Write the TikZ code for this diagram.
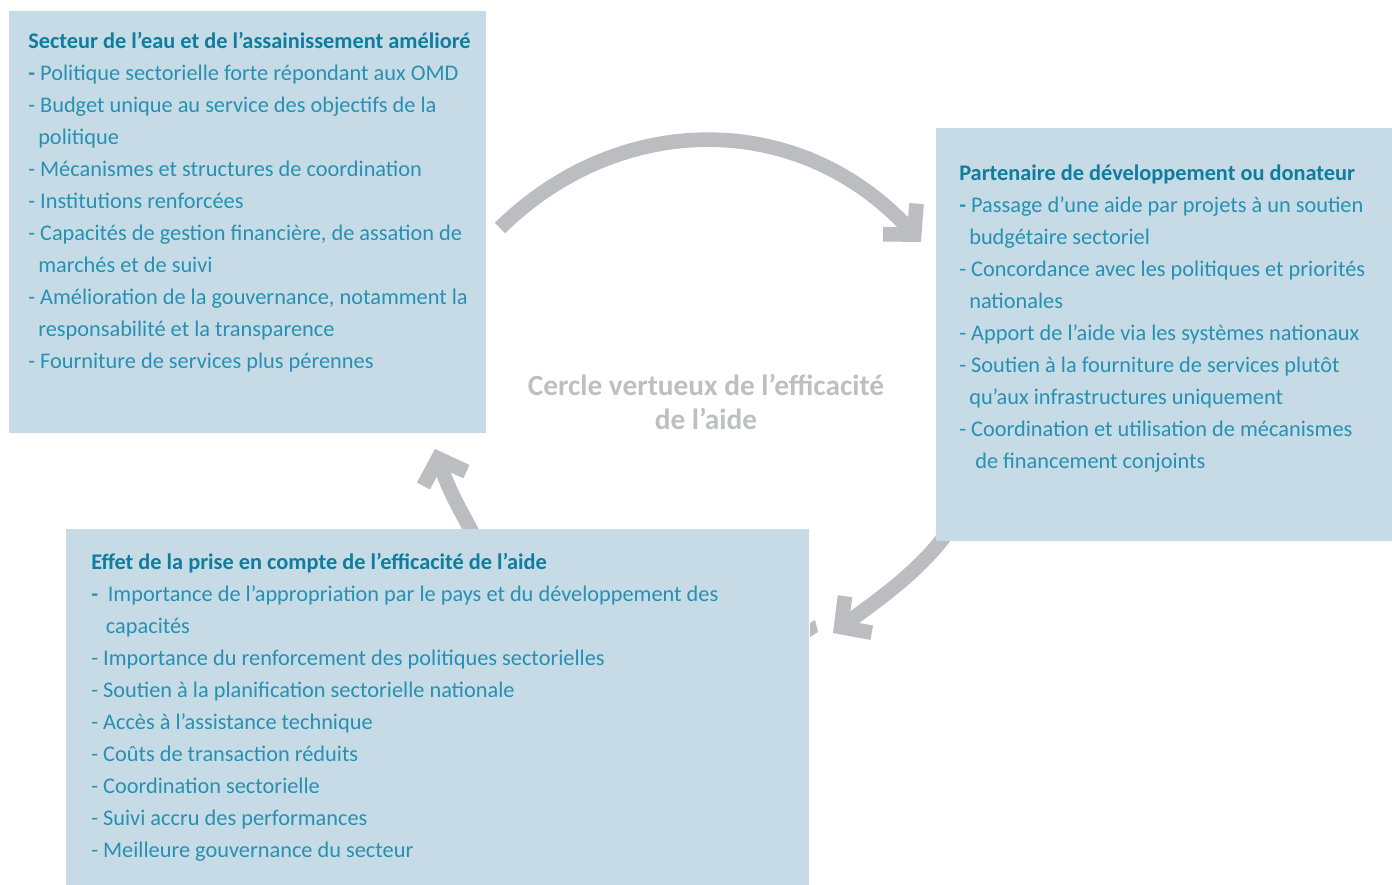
\documentclass[tikz,border=0pt]{standalone}
\usepackage{fontspec}
\setmainfont{Carlito}
\usetikzlibrary{arrows.meta}

\definecolor{boxblue}{RGB}{198,219,230}
\definecolor{headteal}{RGB}{14,125,158}
\definecolor{itemteal}{RGB}{38,145,178}
\definecolor{arrowgray}{RGB}{188,189,193}
\definecolor{titlegray}{RGB}{190,191,194}

\newcommand{\boxhead}[1]{{\bfseries\color{headteal}#1}}
\newcommand{\firstdash}{{\bfseries -}}

\begin{document}
\begin{tikzpicture}[x=0.75pt,y=-0.75pt,line cap=butt,
    box/.style={fill=boxblue, inner sep=0pt, anchor=north west},
    items/.style={anchor=base west, align=left, inner sep=0pt, text=itemteal,
      font=\fontsize{16.75}{24}\selectfont},
    cycle arrow/.style={draw=arrowgray, line width=11pt,
      -{Straight Barb[length=16pt,width=34pt]}},
    title/.style={align=center, text=titlegray, inner sep=0pt,
      font=\fontsize{22}{26}\selectfont\bfseries}]
  \useasboundingbox (0,0) rectangle (1392,885);

  % arrows first, the boxes hide their ends
  \coordinate (a1s) at (500,228);
  \coordinate (a1e) at (921,242);
  \coordinate (a2s) at (960,512);
  \coordinate (a2e) at (833,633);
  \coordinate (a3s) at (478,545);
  \coordinate (a3e) at (435,449);
  \draw[cycle arrow] (a1s) .. controls (620,110) and (800,110) .. (a1e);
  \draw[cycle arrow] (a2s) .. controls (935,560) and (885,595) .. (a2e);
  \draw[cycle arrow] (a3s) .. controls (470,525) and (452,500) .. (a3e);
  \fill[arrowgray] (810,623) -- (815,620) -- (818,632) -- (810,637) -- cycle;

  % boxes
  \node[box, minimum width=357.75pt, minimum height=316.5pt] (secteur) at (9,11) {};
  \node[box, minimum width=342pt, minimum height=309.75pt] (partenaire) at (936,128) {};
  \node[box, minimum width=557.25pt, minimum height=267pt] (effet) at (66,529) {};

  % texts, placed by the baseline of their last line
  \node[items] (secteur-txt) at (28,368) {\boxhead{Secteur de l’eau et de l’assainissement amélioré}\\
    \firstdash{} Politique sectorielle forte répondant aux OMD\\
    - Budget unique au service des objectifs de la\\
    \hspace*{7.5pt}politique\\
    - Mécanismes et structures de coordination\\
    - Institutions renforcées\\
    - Capacités de gestion financière, de assation de\\
    \hspace*{7.5pt}marchés et de suivi\\
    - Amélioration de la gouvernance, notamment la\\
    \hspace*{7.5pt}responsabilité et la transparence\\
    - Fourniture de services plus pérennes};

  \node[items] (partenaire-txt) at (959,468) {\boxhead{Partenaire de développement ou donateur}\\
    \firstdash{} Passage d’une aide par projets à un soutien\\
    \hspace*{7.5pt}budgétaire sectoriel\\
    - Concordance avec les politiques et priorités\\
    \hspace*{7.5pt}nationales\\
    - Apport de l’aide via les systèmes nationaux\\
    - Soutien à la fourniture de services plutôt\\
    \hspace*{7.5pt}qu’aux infrastructures uniquement\\
    - Coordination et utilisation de mécanismes\\
    \hspace*{12pt}de financement conjoints};

  \node[items] (effet-txt) at (91,857) {\boxhead{Effet de la prise en compte de l’efficacité de l’aide}\\
    \firstdash{}\hspace{3.5pt} Importance de l’appropriation par le pays et du développement des\\
    \hspace*{11pt}capacités\\
    - Importance du renforcement des politiques sectorielles\\
    - Soutien à la planification sectorielle nationale\\
    - Accès à l’assistance technique\\
    - Coûts de transaction réduits\\
    - Coordination sectorielle\\
    - Suivi accru des performances\\
    - Meilleure gouvernance du secteur};

  \node[title] (cercle) at (706,402) {Cercle vertueux de l’efficacité\\de l’aide};
\end{tikzpicture}
\end{document}
